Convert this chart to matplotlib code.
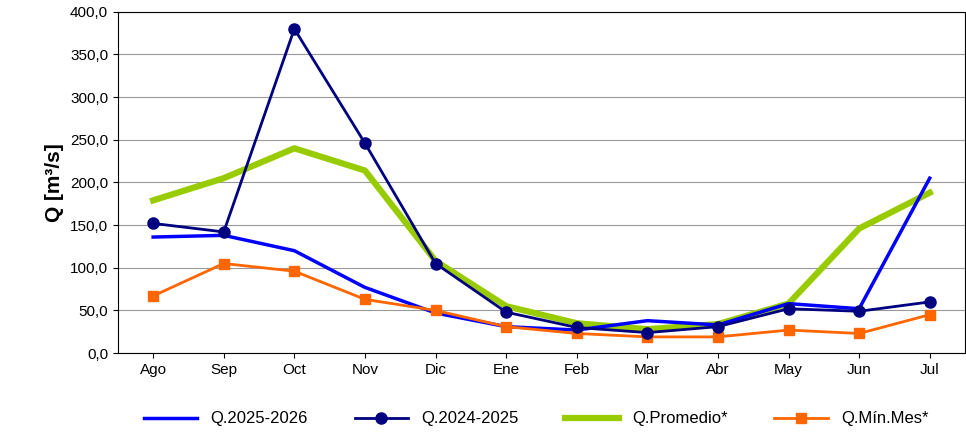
import matplotlib
matplotlib.use('Agg')
import matplotlib.pyplot as plt
from matplotlib.ticker import FuncFormatter

meses = ['Ago','Sep','Oct','Nov','Dic','Ene','Feb','Mar','Abr','May','Jun','Jul']
q2025 = [136, 138, 120, 77, 47, 31, 27, 38, 33, 58, 52, 205]
q2024 = [152, 142, 380, 246, 105, 48, 30, 24, 31, 52, 49, 60]
qprom = [179, 205, 240, 214, 108, 55, 35, 28, 34, 58, 146, 188]
qmin = [67, 105, 96, 63, 50, 31, 23, 19, 19, 27, 23, 45]

plt.rcParams['font.family'] = ['Liberation Sans', 'DejaVu Sans']
fig = plt.figure(figsize=(9.66, 4.37), dpi=100)
ax = fig.add_axes([0.122, 0.192, 0.877, 0.781])
x = range(len(meses))
ax.plot(x, q2025, color='#0000FF', lw=2.5, label='Q.2025-2026', zorder=3)
ax.plot(x, q2024, color='#000080', lw=2, marker='o', ms=8, label='Q.2024-2025', zorder=4)
ax.plot(x, qprom, color='#99CC00', lw=4.5, label='Q.Promedio*', zorder=2)
ax.plot(x, qmin, color='#FF6600', lw=2, marker='s', ms=7, label='Q.Mín.Mes*', zorder=3)

ax.set_xlim(-0.5, 11.5)
ax.set_ylim(0, 400)
ax.set_yticks(range(0, 401, 50))
ax.yaxis.set_major_formatter(FuncFormatter(lambda v, p: f'{v:.1f}'.replace('.', ',')))
ax.set_xticks(list(x))
ax.set_xticklabels(meses)
ax.tick_params(labelsize=11)
ax.grid(axis='y', color='#999999', lw=0.8)
ax.set_axisbelow(True)
ax.set_ylabel('Q [m³/s]', fontsize=15, fontweight='bold')
for s in ax.spines.values():
    s.set_color('black')
fig.legend(loc='lower center', ncol=4, frameon=False, fontsize=12,
           bbox_to_anchor=(0.555, -0.01), handlelength=3.2, columnspacing=2.8)
fig.savefig('out.png', dpi=100)
